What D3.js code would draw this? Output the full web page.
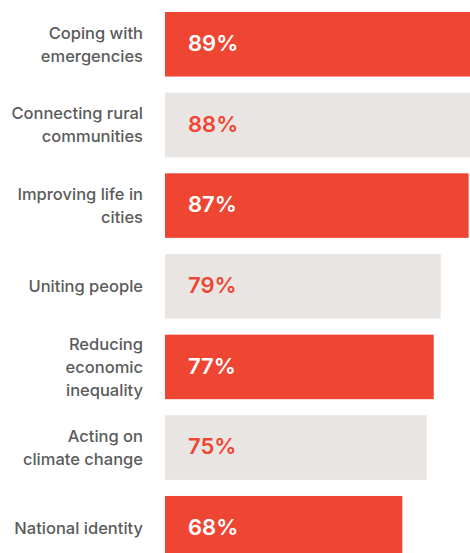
<!DOCTYPE html>
<html>
<head>
<meta charset="utf-8">
<script src="https://cdn.jsdelivr.net/npm/d3@7"></script>
<style>
  html, body { margin: 0; padding: 0; background: #fff; overflow: hidden; }
  svg { display: block; }
</style>
</head>
<body>
<svg id="chart" width="470" height="553"></svg>
<script>
// Share of respondents who see each area as important
const categories = [
  ["Coping with", "emergencies"],
  ["Connecting rural", "communities"],
  ["Improving life in", "cities"],
  ["Uniting people"],
  ["Reducing", "economic", "inequality"],
  ["Acting on", "climate change"],
  ["National identity"]
];
const values = [89, 88, 87, 79, 77, 75, 68];

const RED = "#ef4533";
const GREY = "#e8e5e2";
const LABEL = "#5b5b5b";

const svg = d3.select("#chart");
const idx = d3.range(values.length);

const x = d3.scaleLinear().domain([0, 100]).range([165, 514]);
const y = d3.scaleBand().domain(idx).range([12, 560.5]).paddingInner(0.2).paddingOuter(0);

const rows = svg.selectAll("g.row").data(idx).join("g")
  .attr("class", "row")
  .attr("transform", i => `translate(0,${y(i)})`);

rows.append("rect")
  .attr("x", x(0))
  .attr("y", 0)
  .attr("width", i => x(values[i]) - x(0))
  .attr("height", y.bandwidth())
  .attr("fill", i => i % 2 === 0 ? RED : GREY);

rows.append("text")
  .attr("x", x(0) + 23)
  .attr("y", y.bandwidth() / 2)
  .attr("dy", "0.3em")
  .attr("font-family", "Inter, 'Noto Sans', sans-serif")
  .attr("font-weight", 600)
  .attr("font-size", 22)
  .attr("fill", i => i % 2 === 0 ? "#fff" : RED)
  .text(i => values[i] + "%");

const lineH = 23;
rows.append("text")
  .attr("text-anchor", "end")
  .attr("font-family", "Inter, 'Noto Sans', sans-serif")
  .attr("font-weight", 500)
  .attr("font-size", 16.5)
  .attr("fill", LABEL)
  .each(function(i) {
    const lines = categories[i];
    const t = d3.select(this);
    const start = y.bandwidth() / 2 - (lines.length - 1) * lineH / 2;
    lines.forEach((ln, k) => {
      t.append("tspan")
        .attr("x", 143)
        .attr("y", start + k * lineH)
        .attr("dy", "0.35em")
        .text(ln);
    });
  });
</script>
</body>
</html>
